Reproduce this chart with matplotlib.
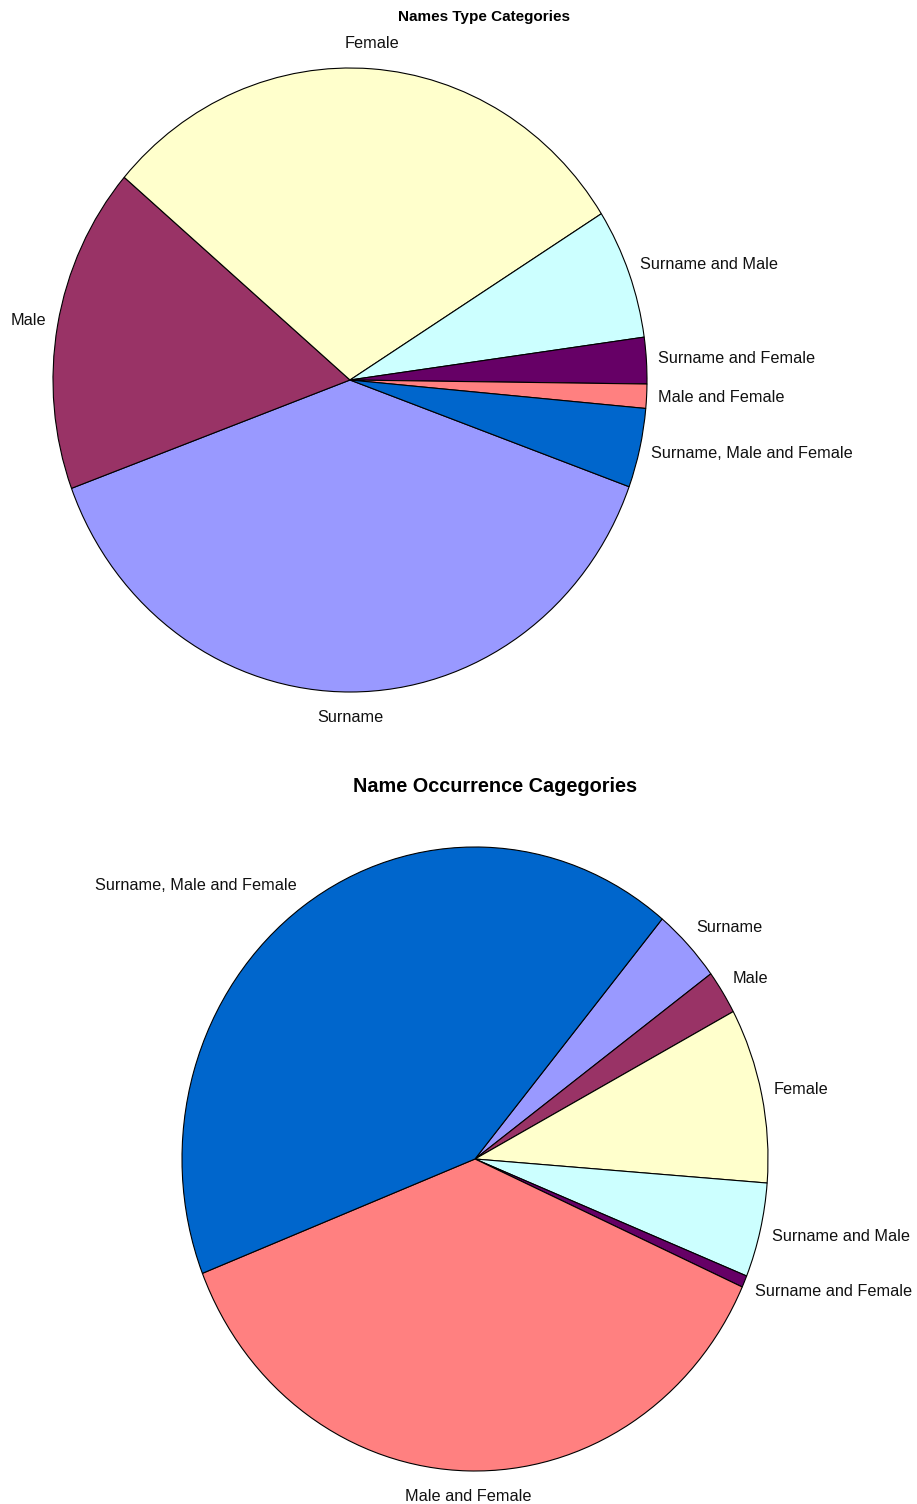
import numpy as np
import matplotlib.pyplot as plt

plt.rcParams['font.family'] = ['Liberation Sans', 'DejaVu Sans']

# category order is shared by both charts (clockwise)
categories = ['Surname', 'Male', 'Female', 'Surname and Male',
              'Surname and Female', 'Male and Female', 'Surname, Male and Female']
colors = ['#9999FF', '#993366', '#FFFFCC', '#CCFFFF', '#660066', '#FF8080', '#0066CC']

# percentages
type_share = [38.8, 16.9, 29.8, 6.75, 2.4, 1.25, 4.1]
occurrence_share = [3.86, 2.28, 9.06, 4.89, 0.61, 37.3, 42.0]

W, H = 917, 1504
fig = plt.figure(figsize=(W / 100, H / 100), dpi=100)


def pie_axes(cx, cy, rx, ry):
    # axes spanning the ellipse bounding box, given in pixels from top-left
    return fig.add_axes([(cx - rx) / W, 1 - (cy + ry) / H, 2 * rx / W, 2 * ry / H])


def draw_pie(ax, values, start, labels):
    wedges, _ = ax.pie(values, colors=colors, startangle=start, counterclock=False,
                       radius=1, wedgeprops=dict(edgecolor='black', linewidth=0.8))
    ax.set_aspect('auto')
    ax.set_xlim(-1, 1)
    ax.set_ylim(-1, 1)
    for w, lab in zip(wedges, labels):
        ang = np.deg2rad((w.theta1 + w.theta2) / 2)
        c, s = np.cos(ang), np.sin(ang)
        if c > 0.1:
            ha = 'left'
        elif c < -0.1:
            ha = 'right'
        else:
            ha = 'center'
        ax.annotate(lab, xy=(1.04 * c, 1.04 * s), xytext=(0, 9.5 * s),
                    textcoords='offset points', ha=ha, va='center',
                    fontsize=11.7, color='#111111', annotation_clip=False)


ax1 = pie_axes(350, 380, 297, 312)
draw_pie(ax1, type_share, -20, categories)
fig.text(484 / W, 1 - 17 / H, 'Names Type Categories', ha='center', va='center',
         fontsize=11, fontweight='bold')

ax2 = pie_axes(475, 1159, 293, 312)
draw_pie(ax2, occurrence_share, 50.3, categories)
fig.text(495 / W, 1 - 787 / H, 'Name Occurrence Cagegories', ha='center', va='center',
         fontsize=14.3, fontweight='bold')

fig.savefig('out.png', dpi=100, facecolor='white')
